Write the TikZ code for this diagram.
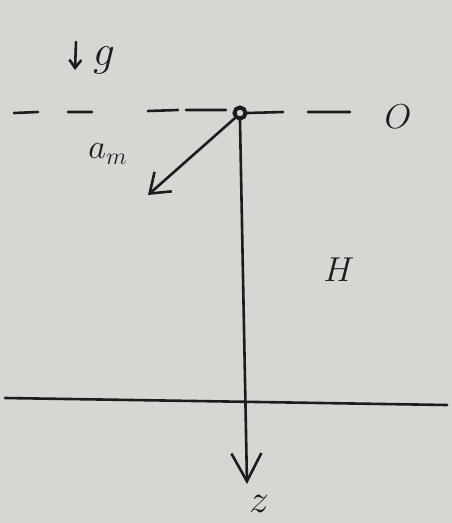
\documentclass[tikz,border=0pt]{standalone}
\usetikzlibrary{arrows.meta}
\definecolor{paper}{RGB}{214,214,210}
\definecolor{ink}{RGB}{28,28,28}
\begin{document}
\begin{tikzpicture}[x=1pt,y=-1pt,
  ink, line width=2.6pt, line cap=round,
  lbl/.style={inner sep=0pt, text=ink, font=\LARGE, transform shape=false},
  bigtip/.style={-{Straight Barb[length=28pt,width=30pt]}},
  amtip/.style={-{Straight Barb[length=18pt,width=26pt]}}]
\fill[paper] (0,0) rectangle (452,523);
\useasboundingbox (0,0) rectangle (452,523);
% origin point
\node[circle, draw=ink, line width=4pt, minimum size=11pt, inner sep=0pt] (o) at (240,113) {};
% dashed reference line
\draw (14,113) -- (38,112) (68,112) -- (92,112) (148,111) -- (178,110)
      (186,110) -- (226,110) (o.east) -- (283,112) (308,112) -- (350,112);
% g arrow
\coordinate (gs) at (76,42);
\coordinate (ge) at (75,70);
\draw[-{Straight Barb[length=8pt,width=12pt]}] (gs) -- (ge);
\node[lbl, scale=2.5] (g) at (104,60) {$g$};
% labels
\node[lbl, scale=2.0] (O) at (398,117) {$O$};
\node[lbl, scale=2.0] (H) at (339,270) {$H$};
\node[lbl, scale=2.3] (z) at (259,504) {$z$};
\node[lbl, scale=2.0] (am) at (108,154) {$a_m$};
% ground line
\coordinate (gl) at (5,398);
\coordinate (gr) at (447,405);
\draw (gl) -- (gr);
% z axis
\coordinate (zend) at (247,484);
\draw[bigtip] (o.south) -- (zend);
% acceleration a_m
\coordinate (amend) at (148,195);
\draw[amtip] (o.south west) -- (amend);
\end{tikzpicture}
\end{document}
